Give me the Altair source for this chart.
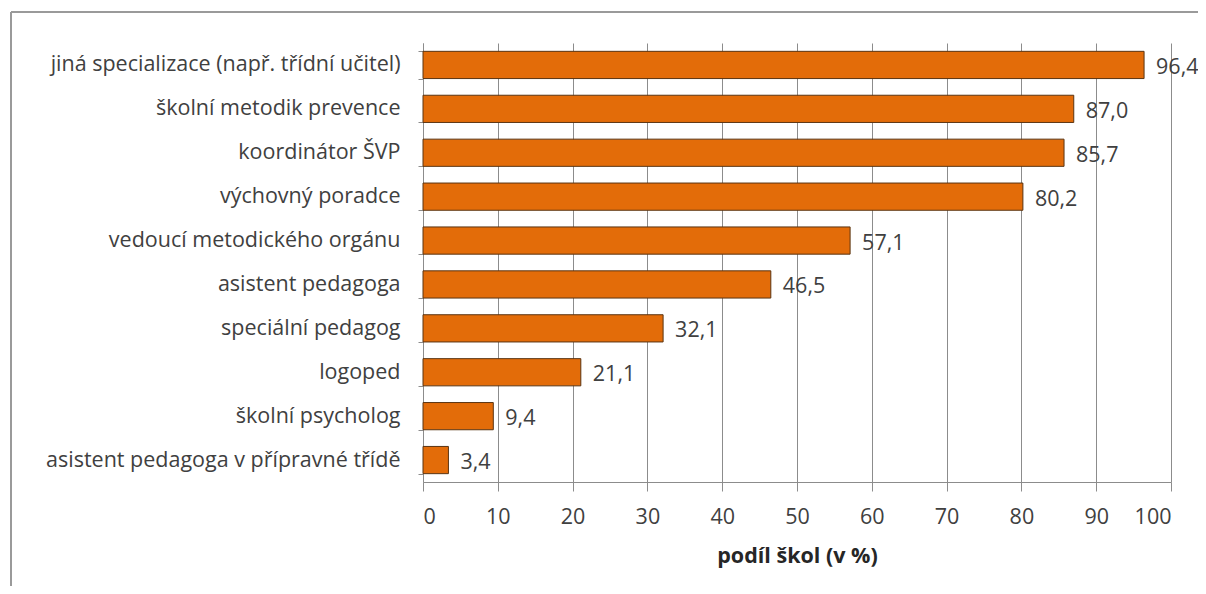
import altair as alt
import pandas as pd

categories = [
    "jiná specializace (např. třídní učitel)",
    "školní metodik prevence",
    "koordinátor ŠVP",
    "výchovný poradce",
    "vedoucí metodického orgánu",
    "asistent pedagoga",
    "speciální pedagog",
    "logoped",
    "školní psycholog",
    "asistent pedagoga v přípravné třídě",
]
values = [96.4, 87.0, 85.7, 80.2, 57.1, 46.5, 32.1, 21.1, 9.4, 3.4]
x_ticks = list(range(0, 101, 10))

df = pd.DataFrame({"cat": categories, "val": values})
df["label"] = [f"{v:.1f}".replace(".", ",") for v in values]

FONT = "Open Sans"
FS = 21.5
TXT = "#404040"
GRID = "#8c8c8c"

y_enc = alt.Y(
    "cat:N",
    sort=categories,
    scale=alt.Scale(paddingInner=0.38, paddingOuter=0.19),
    axis=alt.Axis(
        title=None, labelFont=FONT, labelFontSize=FS, labelColor=TXT,
        labelPadding=18, tickBand="extent", tickSize=5, tickColor=GRID,
        domainColor=GRID, labelLimit=500,
    ),
)
x_enc = alt.X(
    "val:Q",
    scale=alt.Scale(domain=[0, 100], nice=False),
    axis=alt.Axis(
        values=x_ticks, title="podíl škol (v %)", titleFont=FONT,
        titleFontSize=FS, titleFontWeight="bold", titleColor="#262626",
        titlePadding=18, labelFont=FONT, labelFontSize=FS, labelColor=TXT,
        labelPadding=15, tickSize=9, tickColor=GRID, domainColor=GRID,
        grid=True, gridColor=GRID, gridWidth=1,
    ),
)

bars = alt.Chart(df).mark_bar(
    color="#E36C09", stroke="#5a3412", strokeWidth=1
).encode(x=x_enc, y=y_enc)

labels = alt.Chart(df).mark_text(
    align="left", baseline="middle", dx=12, dy=3, font=FONT, fontSize=FS, color=TXT
).encode(x="val:Q", y=alt.Y("cat:N", sort=categories), text="label:N")

frame_left = alt.Chart(df).mark_rule(color="#9a9a9a", strokeWidth=2).encode(
    x=alt.value(-412), y=alt.value(-31), y2=alt.value(560)
)
frame_top = alt.Chart(df).mark_rule(color="#9a9a9a", strokeWidth=2).encode(
    x=alt.value(-412), x2=alt.value(800), y=alt.value(-31)
)

chart = alt.layer(frame_left, frame_top, bars, labels).properties(
    width=748, height=439,
    autosize=alt.AutoSizeParams(type="none"),
    padding={"left": 415, "top": 35, "right": 27, "bottom": 104},
    background="white",
).configure_view(stroke=None)

chart.save("out.html", embed_options={"renderer": "svg", "actions": False})
